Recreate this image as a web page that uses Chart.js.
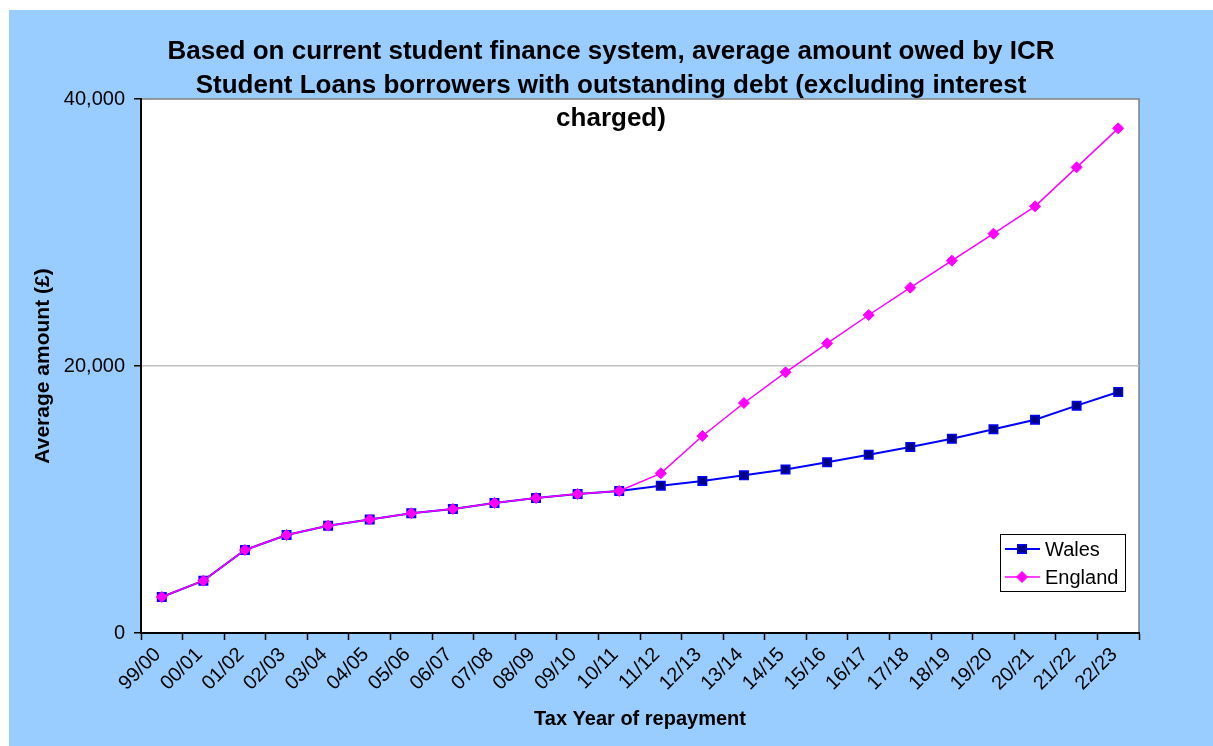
<!DOCTYPE html>
<html lang="en">
<head>
  <meta charset="UTF-8" />
  <title>Average amount owed by ICR Student Loans borrowers</title>
  <script src="https://cdn.jsdelivr.net/npm/chart.js"></script>
  <style>
    body {
      margin: 0;
      background-color: #ffffff;
      font-family: "Liberation Sans", Arial, sans-serif;
    }

    /* light blue chart panel */
    .panel {
      position: absolute;
      left: 9px;
      top: 10px;
      width: 1204px;
      height: 736px;
      background-color: #99ccff;
    }
  </style>
</head>
<body>

<div class="panel">
  <canvas id="loanChart"></canvas>
</div>

<script>
// Tax years on the x axis
const taxYears = [
  '99/00', '00/01', '01/02', '02/03', '03/04', '04/05', '05/06', '06/07',
  '07/08', '08/09', '09/10', '10/11', '11/12', '12/13', '13/14', '14/15',
  '15/16', '16/17', '17/18', '18/19', '19/20', '20/21', '21/22', '22/23'
];

// Average amount owed (£), excluding interest
const walesOwed = [
  2700, 3920, 6220, 7340, 8040, 8500, 8970, 9290,
  9740, 10110, 10410, 10640, 11030, 11390, 11810, 12250,
  12790, 13360, 13930, 14550, 15260, 15980, 17030, 18050
];
const englandOwed = [
  2700, 3920, 6220, 7340, 8040, 8500, 8970, 9290,
  9740, 10110, 10410, 10640, 11960, 14760, 17230, 19530,
  21700, 23820, 25870, 27890, 29910, 31960, 34880, 37800
];

const yTicks = [0, 20000, 40000];

const titleLines = [
  'Based on current student finance system, average amount owed by ICR',
  'Student Loans borrowers with outstanding debt (excluding interest',
  'charged)'
];

const FONT = '"Liberation Sans", Arial, sans-serif';
Chart.defaults.font.family = FONT;
Chart.defaults.color = '#000000';

// White plot area with grey frame on top/right
const plotFrame = {
  id: 'plotFrame',
  beforeDraw(chart) {
    const { ctx, chartArea: a } = chart;
    ctx.save();
    ctx.fillStyle = '#ffffff';
    ctx.fillRect(a.left, a.top, a.right - a.left, a.bottom - a.top);
    ctx.strokeStyle = '#808080';
    ctx.lineWidth = 1.5;
    ctx.beginPath();
    ctx.moveTo(a.left, a.top);
    ctx.lineTo(a.right, a.top);
    ctx.lineTo(a.right, a.bottom);
    ctx.stroke();
    ctx.restore();
  }
};

// Three-line bold title, last line sits over the plot area
const chartTitle = {
  id: 'chartTitle',
  afterDraw(chart) {
    const ctx = chart.ctx;
    ctx.save();
    ctx.font = 'bold 26px ' + FONT;
    ctx.fillStyle = '#000000';
    ctx.textAlign = 'center';
    ctx.textBaseline = 'alphabetic';
    titleLines.forEach((line, i) => {
      ctx.fillText(line, chart.width / 2, 49 + i * 33.5);
    });
    ctx.restore();
  }
};

// Boxed legend in the lower right of the plot
const boxLegend = {
  id: 'boxLegend',
  afterDraw(chart) {
    const ctx = chart.ctx;
    const box = { x: 991, y: 524, w: 125, h: 57 };
    ctx.save();
    ctx.fillStyle = '#ffffff';
    ctx.fillRect(box.x, box.y, box.w, box.h);
    ctx.strokeStyle = '#000000';
    ctx.lineWidth = 1;
    ctx.strokeRect(box.x + 0.5, box.y + 0.5, box.w, box.h);
    chart.data.datasets.forEach((ds, i) => {
      const y = box.y + 15 + i * 28;
      ctx.strokeStyle = ds.borderColor;
      ctx.lineWidth = ds.borderWidth;
      ctx.beginPath();
      ctx.moveTo(box.x + 5, y);
      ctx.lineTo(box.x + 40, y);
      ctx.stroke();
      ctx.fillStyle = ds.pointBackgroundColor;
      ctx.strokeStyle = ds.pointBorderColor;
      ctx.lineWidth = ds.pointBorderWidth;
      Chart.helpers.drawPoint(ctx, {
        pointStyle: ds.pointStyle,
        radius: ds.pointRadius,
        borderWidth: ds.pointBorderWidth
      }, box.x + 22, y);
      ctx.fillStyle = '#000000';
      ctx.font = '20px ' + FONT;
      ctx.textAlign = 'left';
      ctx.textBaseline = 'middle';
      ctx.fillText(ds.label, box.x + 45, y + 1);
    });
    ctx.restore();
  }
};

new Chart(document.getElementById('loanChart'), {
  type: 'line',
  data: {
    labels: taxYears,
    datasets: [
      {
        label: 'Wales',
        data: walesOwed,
        borderColor: '#0000ff',
        borderWidth: 2,
        pointStyle: 'rect',
        pointRadius: 6,
        pointHoverRadius: 6,
        pointBackgroundColor: '#000080',
        pointBorderColor: '#0000ff',
        pointBorderWidth: 1.5,
        tension: 0,
        order: 1
      },
      {
        label: 'England',
        data: englandOwed,
        borderColor: '#ff00ff',
        borderWidth: 1.5,
        pointStyle: 'rectRot',
        pointRadius: 5.5,
        pointHoverRadius: 5.5,
        pointBackgroundColor: '#ff00ff',
        pointBorderColor: '#ff00ff',
        pointBorderWidth: 1,
        tension: 0,
        order: 0
      }
    ]
  },
  options: {
    responsive: true,
    maintainAspectRatio: false,
    animation: false,
    events: [],
    layout: {
      padding: { top: 89, right: 74, left: 0, bottom: 0 }
    },
    plugins: {
      legend: { display: false },
      tooltip: { enabled: false },
      title: { display: false }
    },
    scales: {
      x: {
        offset: true,
        grid: {
          offset: true,
          drawOnChartArea: false,
          tickLength: 7,
          tickColor: '#000000',
          tickWidth: 1.5
        },
        border: { color: '#000000', width: 2 },
        ticks: {
          autoSkip: false,
          minRotation: 45,
          maxRotation: 45,
          padding: 3,
          labelOffset: -4,
          color: '#000000',
          font: { size: 20 }
        },
        title: {
          display: true,
          text: 'Tax Year of repayment',
          color: '#000000',
          font: { size: 20, weight: 'bold' },
          padding: { top: 0, bottom: 15 }
        },
        afterFit(scale) { scale.height = 113; }
      },
      y: {
        min: 0,
        max: 40000,
        afterBuildTicks(scale) {
          scale.ticks = yTicks.map(v => ({ value: v }));
        },
        grid: {
          color: ctx => (ctx.tick && ctx.tick.value === 20000 ? '#c0c0c0' : 'rgba(0,0,0,0)'),
          lineWidth: 1.5,
          tickLength: 7,
          tickColor: '#000000',
          tickWidth: 1.5
        },
        border: { color: '#000000', width: 2 },
        ticks: {
          padding: 9,
          color: '#000000',
          font: { size: 20 },
          callback: v => v.toLocaleString('en-US')
        },
        title: {
          display: true,
          text: 'Average amount (£)',
          color: '#000000',
          font: { size: 21, weight: 'bold' },
          padding: { top: 22, bottom: 0 }
        },
        afterFit(scale) { scale.width = 132; }
      }
    }
  },
  plugins: [plotFrame, chartTitle, boxLegend]
});
</script>

</body>
</html>
